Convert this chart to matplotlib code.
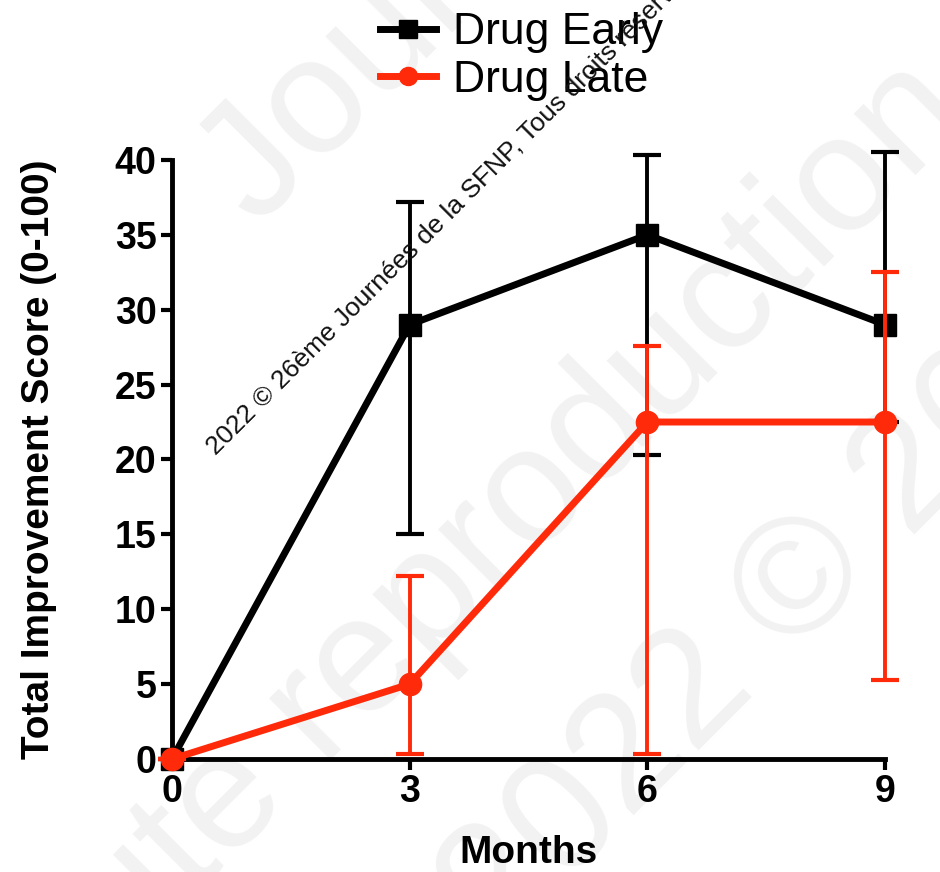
import matplotlib
matplotlib.use("Agg")
import matplotlib.pyplot as plt
from matplotlib.lines import Line2D

months = [0, 3, 6, 9]
xticks = [0, 3, 6, 9]
yticks = [0, 5, 10, 15, 20, 25, 30, 35, 40]

early = [0, 29, 35, 29]
early_low = [0, 15.0, 20.3, 22.5]
early_high = [0, 37.2, 40.3, 40.5]

late = [0, 5, 22.5, 22.5]
late_low = [0, 0.3, 0.3, 5.3]
late_high = [0, 12.2, 27.6, 32.5]

RED = '#FF2A0A'
plt.rcParams['font.family'] = ['Liberation Sans', 'DejaVu Sans']

fig = plt.figure(figsize=(9.4, 8.72), dpi=100)
ax = fig.add_axes([0.183, 0.1296, 0.7585, 0.687])
ax.set_facecolor('none')

# faint background watermark
wm = dict(color='#f2f2f2', fontsize=119, rotation=45, rotation_mode='anchor',
          ha='left', va='baseline', zorder=-10)
fig.text(0.272, 0.740, 'Journées', **wm)
fig.text(0.005, -0.245, 'Toute reproduction', **wm)
fig.text(0.530, -0.090, '2022 © 26ème', **wm)

ax.set_xlim(0, 9)
ax.set_ylim(0, 40)

e_err = [[m - l for m, l in zip(early, early_low)], [h - m for m, h in zip(early, early_high)]]
l_err = [[m - l for m, l in zip(late, late_low)], [h - m for m, h in zip(late, late_high)]]

ax.errorbar(months, early, yerr=e_err, color='black', lw=5, marker='s', ms=16,
            elinewidth=2.8, capsize=10, capthick=3, clip_on=False, zorder=3)
ax.errorbar(months, late, yerr=l_err, color=RED, lw=5, marker='o', ms=16,
            elinewidth=2.8, capsize=10, capthick=3, clip_on=False, zorder=4)

for s in ['top', 'right']:
    ax.spines[s].set_visible(False)
for s in ['left', 'bottom']:
    ax.spines[s].set_linewidth(3.5)
ax.tick_params(width=3, length=8, labelsize=27, pad=3)
ax.set_xticks(xticks)
ax.set_yticks(yticks)
for lab in ax.get_xticklabels() + ax.get_yticklabels():
    lab.set_fontweight('bold')

ax.set_xlabel('Months', fontsize=28, fontweight='bold', labelpad=18)
ax.set_ylabel('Total Improvement Score (0-100)', fontsize=28, fontweight='bold', labelpad=42)

handles = [Line2D([], [], color='black', lw=5, marker='s', ms=13),
           Line2D([], [], color=RED, lw=5, marker='o', ms=13)]
fig.legend(handles, ['Drug Early', 'Drug Late'], loc='upper center',
           bbox_to_anchor=(0.555, 1.032), frameon=False, fontsize=32,
           handlelength=1.25, handletextpad=0.4, labelspacing=0.15)

fig.text(0.229, 0.478, '2022 © 26ème Journées de la SFNP, Tous droits réservés',
         fontsize=19, rotation=45, rotation_mode='anchor', ha='left',
         va='baseline', color='#111111', zorder=10)

fig.savefig('out.png', dpi=100)
